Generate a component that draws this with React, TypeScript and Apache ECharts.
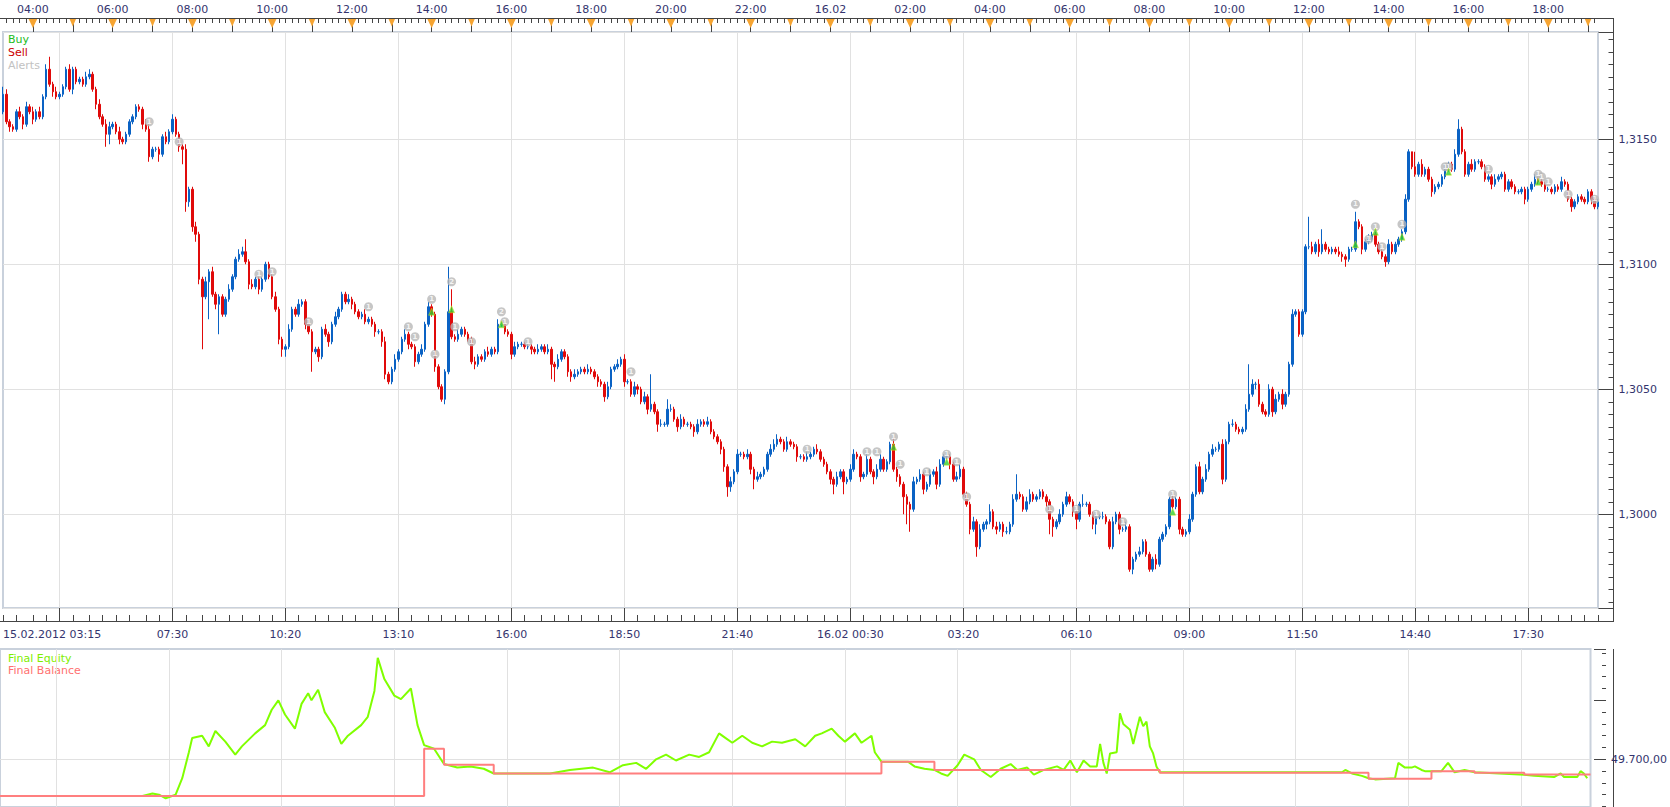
import React, { useEffect, useRef } from "react";
import * as echarts from "echarts";

// Prices are stored in pips above 1.3000 (price = 1.3 + pips / 10000)
const PIP_BASE = 1.3;
const FIRST_OPEN = 161;

const CLOSE = [
  168,157,155,154,161,159,156,163,161,158,161,159,167,178,172,169,167,168,171,178,
  170,178,173,174,172,175,176,170,164,159,156,152,155,156,153,150,149,152,157,159,
  163,162,156,154,143,146,146,144,151,149,153,158,152,147,146,125,130,115,112,94,
  87,93,97,88,84,87,80,86,90,95,102,104,105,101,92,91,94,90,94,100,
  95,87,82,70,66,67,74,82,80,84,85,76,73,65,66,63,74,72,69,76,
  79,82,88,85,86,84,81,79,80,77,78,76,73,73,69,56,53,58,62,65,
  70,72,68,67,61,64,66,76,83,80,59,51,46,57,81,71,70,72,74,72,
  70,61,60,63,62,65,64,66,65,76,76,73,72,64,67,68,68,67,67,66,
  65,66,67,65,66,60,59,62,65,63,57,55,56,57,58,57,58,57,55,53,
  52,47,51,58,59,60,62,53,53,48,51,50,45,47,42,44,41,36,36,36,
  42,42,38,35,38,36,36,35,33,36,37,36,37,33,31,29,26,19,11,13,
  17,24,24,23,24,18,14,15,16,18,24,26,28,30,29,26,29,28,27,23,
  23,22,23,24,26,25,22,20,17,14,12,15,17,13,14,18,24,23,15,16,
  22,17,15,18,22,18,21,28,18,15,12,7,4,2,13,14,16,10,12,16,
  17,12,20,23,23,20,14,15,18,8,4,-6,-3,-13,-6,-4,-3,1,-5,-6,
  -4,-7,-7,-4,6,8,7,2,5,8,6,7,9,7,5,-2,-5,-3,0,4,
  7,5,1,-2,4,4,4,0,-4,-1,-1,-1,-3,-13,-3,0,-6,-6,-5,-22,
  -18,-16,-15,-11,-16,-22,-18,-20,-10,-8,-5,6,3,6,-6,-8,-7,-2,8,19,
  9,14,18,24,26,26,28,14,29,36,36,34,33,34,42,48,52,52,44,41,
  40,50,41,46,48,44,48,60,80,81,72,81,107,107,105,108,105,108,106,105,
  106,105,104,103,102,106,106,117,115,106,109,110,112,108,105,103,101,108,105,108,
  110,113,126,145,139,136,140,136,138,134,129,131,132,135,138,140,138,144,154,145,
  136,140,138,141,141,139,134,135,132,134,135,136,130,133,131,129,129,130,126,130,
  132,134,133,132,130,130,129,131,130,133,132,126,123,125,127,126,125,129,126,123,
  125,
];

// upper wick (pips above the body) and lower wick (pips below the body)
const UP_WICK = [
  3,2,1,1,1,2,1,2,1,2,1,2,1,2,5,1,2,1,1,1,
  2,1,1,1,1,2,2,1,1,2,1,2,2,1,1,2,1,1,1,1,
  1,1,1,2,2,1,1,1,1,2,1,2,1,1,1,2,1,1,2,1,
  1,2,1,2,1,1,1,1,2,1,1,2,2,5,1,2,1,1,1,1,
  1,1,2,1,1,1,2,1,1,2,1,1,2,1,1,1,1,2,1,1,
  2,1,1,1,2,1,1,1,1,2,1,1,1,1,1,2,1,1,2,1,
  1,2,1,1,1,1,2,1,2,1,1,1,1,1,18,9,1,2,1,1,
  1,1,2,1,1,1,2,1,1,2,1,1,1,1,2,1,1,1,1,1,
  1,2,1,1,2,1,1,2,1,1,1,1,2,1,1,1,2,1,1,1,
  1,1,2,1,1,2,1,2,1,1,2,1,1,2,1,12,1,1,2,1,
  4,2,1,1,2,1,1,1,1,2,1,1,2,1,1,1,1,1,1,2,
  1,2,1,1,2,1,1,2,1,1,1,2,2,2,1,1,2,1,1,1,
  1,1,2,1,1,2,1,1,1,1,1,2,1,1,1,2,2,1,1,1,
  2,1,1,2,2,1,1,1,3,1,1,1,1,1,2,1,2,1,1,2,
  1,2,2,1,2,1,1,2,2,1,1,1,2,1,2,1,1,3,1,2,
  1,1,2,1,2,8,1,1,2,2,1,1,1,1,1,1,1,1,2,1,
  2,1,1,1,1,4,1,1,1,1,1,2,1,1,2,1,1,1,2,1,
  1,1,2,1,1,1,1,2,1,1,1,1,2,1,1,1,1,2,1,1,
  2,1,2,1,2,1,1,2,1,1,2,1,1,1,2,12,2,1,2,1,
  1,2,1,2,1,2,1,1,2,1,1,1,1,12,2,1,2,6,1,1,
  1,1,2,1,1,1,1,4,1,1,1,2,1,1,1,1,1,2,1,1,
  1,1,2,1,0,6,1,2,1,1,1,1,1,1,2,1,1,2,4,1,
  1,1,2,1,1,1,1,1,1,2,1,1,1,1,1,1,1,1,1,1,
  1,2,1,1,1,1,1,1,1,2,1,1,1,1,1,1,1,1,1,1,
  1,
];

const DN_WICK = [
  1,1,2,1,1,1,2,1,1,2,1,1,1,1,1,2,1,1,1,1,
  1,2,1,1,1,1,1,1,2,1,1,5,4,1,1,2,1,1,1,1,
  1,1,2,1,2,1,1,3,1,1,1,1,1,2,6,4,2,2,3,2,
  21,1,15,1,2,12,1,1,1,1,1,1,1,1,2,1,1,2,1,1,
  1,1,1,2,3,3,1,1,1,1,1,2,1,8,1,2,1,1,2,1,
  1,1,1,1,1,2,1,1,1,1,1,1,2,1,2,2,1,1,1,1,
  1,1,2,1,2,1,1,1,1,1,2,1,1,2,1,1,1,1,1,1,
  1,1,2,1,1,1,1,1,1,1,1,1,1,2,1,1,1,1,1,2,
  1,1,1,1,1,6,6,1,1,1,2,2,1,1,1,1,1,1,1,2,
  1,2,1,1,1,1,1,2,1,1,1,2,1,1,2,1,1,3,1,1,
  1,1,1,2,1,1,1,1,2,1,1,1,1,1,1,1,2,2,4,2,
  1,1,1,1,1,2,4,1,1,1,1,1,1,1,1,1,1,1,1,2,
  1,1,1,1,1,1,1,1,1,2,4,1,1,5,1,1,1,1,2,1,
  1,1,3,1,1,1,1,1,1,2,1,7,8,9,1,1,1,2,1,1,
  1,2,1,1,1,2,1,1,1,1,1,2,1,4,1,1,2,1,1,2,
  1,2,1,1,1,1,1,1,1,1,1,1,1,1,2,6,4,1,1,1,
  1,1,2,4,1,1,1,1,2,4,1,1,1,1,1,1,2,1,1,1,
  2,1,1,1,1,1,1,2,1,1,1,1,1,1,2,1,1,1,1,1,
  1,1,1,1,1,1,1,2,1,1,1,1,1,1,1,1,1,2,1,1,
  1,1,2,1,1,2,1,1,1,1,1,1,1,1,1,1,2,1,1,1,
  1,1,1,2,3,1,1,1,1,2,1,1,1,1,1,1,2,1,1,1,
  1,1,1,1,1,1,1,1,1,1,2,1,1,1,1,1,1,1,1,1,
  1,1,1,1,1,1,1,1,2,1,1,1,1,1,1,1,1,1,2,1,
  1,1,1,1,1,1,1,1,1,1,1,1,2,1,1,1,1,1,2,1,
  1,
];

// alerts: [bar index, pips, text]
const ALERTS: [number, number, string][] = [
  [44,157,"1"],[53,149,"1"],[77,96,"1"],[81,97,"1"],[92,77,"1"],[110,83,"1"],[122,75,"1"],
  [124,71,"1"],[129,86,"1"],[130,64,"1"],[135,93,"2"],[136,75,"1"],[141,69,"1"],[150,81,"2"],
  [151,77,"1"],[158,69,"1"],[189,57,"1"],[242,26,"1"],[260,25,"1"],[263,25,"1"],[268,31,"1"],
  [270,20,"1"],[278,17,"1"],[284,24,"1"],[287,21,"1"],[290,7,"1"],[315,2,"1"],[323,2,"1"],
  [329,0,"1"],[337,-3,"1"],[352,8,"1"],[407,124,"1"],[411,110,"1"],[413,115,"1"],[415,107,"1"],
  [421,116,"1"],[434,139,"1"],[435,139,"1"],[447,138,"1"],[462,136,"1"],[463,135,"1"],
  [465,133,"1"],[471,128,"1"],[479,126,"1"],
];
const BUYS: [number, number][] = [
  [129,81],[135,82],[150,76],[268,27],[284,21],[352,1],[407,108],[413,113],[421,111],[435,137],[462,133],
];

// equity / balance: [bar index, value]
const EQUITY: [number, number][] = [
  [0,49669],[43,49669],[46,49671],[48,49670],[50,49667],[53,49670],[55,49684],[57,49706],[58,49718],
  [61,49720],[63,49711],[65,49724],[68,49715],[71,49704],[73,49711],[77,49722],[80,49729],[82,49742],
  [84,49750],[86,49738],[89,49726],[91,49747],[93,49756],[94,49750],[96,49759],[98,49740],[101,49727],
  [103,49713],[105,49720],[109,49729],[111,49736],[113,49758],[114,49786],[116,49768],[119,49754],
  [121,49751],[124,49760],[126,49729],[128,49712],[131,49709],[134,49696],[138,49693],[142,49694],
  [146,49692],[149,49688],[166,49688],[172,49691],[179,49693],[184,49689],[188,49695],[192,49697],
  [195,49692],[198,49700],[201,49704],[204,49699],[208,49704],[211,49702],[214,49706],[217,49722],
  [219,49718],[221,49714],[224,49720],[227,49714],[230,49711],[233,49715],[236,49714],[240,49717],
  [243,49711],[246,49720],[248,49722],[251,49726],[253,49720],[255,49715],[258,49722],[260,49714],
  [263,49720],[264,49706],[266,49698],[274,49698],[276,49694],[279,49692],[282,49691],[284,49688],
  [286,49686],[289,49695],[291,49704],[294,49700],[296,49691],[299,49685],[302,49692],[305,49696],
  [307,49691],[310,49693],[312,49687],[315,49691],[319,49694],[321,49691],[323,49699],[325,49689],
  [327,49699],[329,49694],[331,49694],[332,49713],[333,49697],[334,49688],[335,49705],[337,49706],
  [338,49739],[339,49730],[341,49725],[342,49713],[344,49736],[345,49728],[346,49732],[347,49711],
  [348,49705],[349,49694],[350,49689],[405,49689],[406,49691],[408,49688],[411,49686],[413,49684],
  [415,49683],[421,49684],[422,49697],[424,49693],[426,49693],[427,49694],[429,49691],[430,49690],
  [435,49690],[437,49697],[439,49689],[442,49691],[445,49689],[460,49687],[463,49686],[469,49685],
  [471,49688],[472,49685],[476,49685],[477,49690],[478,49688],[479,49684],
];
const BALANCE: [number, number][] = [
  [0,49669],[128,49709],[134,49695.5],[149,49688],[266,49698],[282,49691],[350,49688.6],
  [413,49683.6],[432,49690],[445,49688.6],[460,49687.2],[480,49687.2],
];

// axis ticks and labels (bar indices)
const BOTTOM_LABEL_IDX = [0,51,85,119,153,187,221,255,289,323,357,391,425,459];
const BOTTOM_LABELS = ["15.02.2012 03:15","07:30","10:20","13:10","16:00","18:50","21:40","16.02 00:30","03:20","06:10","09:00","11:50","14:40","17:30"];
const TOP_LABEL_IDX = [9,33,57,81,105,129,153,177,201,225,249,273,297,321,345,369,393,417,441,465];
const TOP_LABELS = ["04:00","06:00","08:00","10:00","12:00","14:00","16:00","18:00","20:00","22:00","16.02","02:00","04:00","06:00","08:00","10:00","12:00","14:00","16:00","18:00"];
const HOUR_IDX = [9,21,33,45,57,69,81,93,105,117,129,141,153,165,177,189,201,213,225,237,249,261,273,285,297,309,321,333,345,357,369,381,393,405,417,429,441,453,465,477];
const MAJOR_IDX = [17,51,85,119,153,187,221,255,289,323,357,391,425,459];
const MINOR_OFFSETS = [4,9,13,17,21,26,30];
const EQUITY_GRID_VALUE = 49700;

const FONT = "DejaVu Sans";
const LABEL_COLOR = "#34346e";
const AXIS_COLOR = "#444444";
const GRID_LINE = "#e1e1e1";
const UP_COLOR = "#0a62c4";
const DOWN_COLOR = "#e00a0a";

export default function App() {
  const ref = useRef<HTMLDivElement>(null);

  useEffect(() => {
    document.body.style.margin = "0";
    if (!ref.current) return;
    const chart = echarts.init(ref.current, undefined, { renderer: "svg" });

    const categories = CLOSE.map((_, i) => String(i));
    const candles = CLOSE.map((c, i) => {
      const o = i === 0 ? FIRST_OPEN : CLOSE[i - 1];
      return [o, c, Math.min(o, c) - DN_WICK[i], Math.max(o, c) + UP_WICK[i]];
    });

    const majorSet = new Set(MAJOR_IDX);
    const minorSet = new Set(MINOR_OFFSETS);
    const isMinor = (i: number) => minorSet.has((((i - 17) % 34) + 34) % 34);
    const bottomMap = new Map(BOTTOM_LABEL_IDX.map((k, j) => [k, BOTTOM_LABELS[j]]));
    const topMap = new Map(TOP_LABEL_IDX.map((k, j) => [k, TOP_LABELS[j]]));
    const hourSet = new Set(HOUR_IDX);

    const labelStyle = { color: LABEL_COLOR, fontFamily: FONT, fontSize: 11 };
    const gridW = 1598;
    const noLine = { show: false, onZero: false };

    const option: any = {
      animation: false,
      textStyle: { fontFamily: FONT },
      grid: [
        { left: 0, top: 32, width: gridW, height: 576, show: true, borderColor: "#c9d1dc", borderWidth: 2, backgroundColor: "transparent" },
        { left: 0, top: 649, width: gridW, height: 158, show: true, borderColor: "#c9d1dc", borderWidth: 2, backgroundColor: "transparent" },
      ],
      xAxis: [
        {
          type: "category", gridIndex: 0, data: categories, boundaryGap: false, position: "bottom", offset: 13.5,
          axisLine: noLine,
          axisTick: { show: true, inside: true, length: 13.5, interval: (i: number) => majorSet.has(i), lineStyle: { color: AXIS_COLOR } },
          axisLabel: { show: true, ...labelStyle, margin: 7, interval: (i: number) => bottomMap.has(i), formatter: (_v: string, i: number) => bottomMap.get(i) || "", alignMinLabel: "left" },
          splitLine: { show: true, interval: (i: number) => majorSet.has(i), lineStyle: { color: GRID_LINE, width: 1 } },
        },
        {
          type: "category", gridIndex: 0, data: categories, boundaryGap: false, position: "bottom", offset: 13.5,
          axisLine: noLine,
          axisTick: { show: true, inside: true, length: 6.5, interval: (i: number) => isMinor(i), lineStyle: { color: AXIS_COLOR } },
          axisLabel: { show: false }, splitLine: { show: false },
        },
        {
          type: "category", gridIndex: 0, data: categories, boundaryGap: false, position: "top", offset: 13.5,
          axisLine: noLine,
          axisTick: { show: true, inside: true, length: 4.5, interval: (i: number) => i % 2 === 1, lineStyle: { color: AXIS_COLOR } },
          axisLabel: { show: false }, splitLine: { show: false },
        },
        {
          type: "category", gridIndex: 0, data: categories, boundaryGap: false, position: "top", offset: 13.5,
          axisLine: noLine,
          axisTick: { show: true, inside: true, length: 13.5, interval: (i: number) => hourSet.has(i), lineStyle: { color: AXIS_COLOR } },
          axisLabel: { show: true, ...labelStyle, margin: 4, interval: (i: number) => topMap.has(i), formatter: (_v: string, i: number) => topMap.get(i) || "" },
          splitLine: { show: false },
        },
        {
          type: "category", gridIndex: 1, data: categories, boundaryGap: false,
          axisLine: noLine, axisTick: { show: false }, axisLabel: { show: false },
          splitLine: { show: true, interval: (i: number) => majorSet.has(i), lineStyle: { color: GRID_LINE, width: 1 } },
        },
      ],
      yAxis: [
        {
          type: "value", gridIndex: 0, position: "right", offset: 15.5, min: -37.5, max: 192.9, splitNumber: 5,
          axisLine: noLine,
          axisTick: { show: true, inside: true, length: 15, lineStyle: { color: AXIS_COLOR } },
          minorTick: { show: true, splitNumber: 10, length: 5, lineStyle: { color: AXIS_COLOR } },
          axisLabel: {
            ...labelStyle, margin: 5, showMinLabel: false, showMaxLabel: false,
            formatter: (v: number) => (PIP_BASE + v / 10000).toFixed(4).replace(".", ","),
          },
          splitLine: { show: true, lineStyle: { color: GRID_LINE, width: 1 } },
        },
        {
          type: "value", gridIndex: 1, position: "right", offset: 15.5, min: 49659.6, max: 49793.5, splitNumber: 3,
          axisLine: noLine,
          axisTick: { show: true, inside: true, length: 12, lineStyle: { color: AXIS_COLOR } },
          minorTick: { show: true, splitNumber: 5, length: 4, lineStyle: { color: AXIS_COLOR } },
          axisLabel: {
            ...labelStyle, margin: 5, showMinLabel: false, showMaxLabel: false,
            formatter: (v: number) => (v === EQUITY_GRID_VALUE ? "49.700,00" : ""),
          },
          splitLine: { show: false },
        },
      ],
      series: [
        {
          type: "candlestick", xAxisIndex: 0, yAxisIndex: 0, data: candles, barWidth: 2,
          itemStyle: { color: UP_COLOR, color0: DOWN_COLOR, borderColor: UP_COLOR, borderColor0: DOWN_COLOR, borderWidth: 1 },
          silent: true,
        },
        {
          type: "scatter", xAxisIndex: 0, yAxisIndex: 0, data: ALERTS, symbol: "circle", symbolSize: 9, z: 4, silent: true,
          itemStyle: { color: "#b8b8b8" },
          label: { show: true, position: "inside", formatter: (p: any) => p.data[2], color: "#ffffff", fontSize: 7, fontWeight: "bold", fontFamily: FONT },
        },
        {
          type: "scatter", xAxisIndex: 0, yAxisIndex: 0, data: BUYS, symbol: "triangle", symbolSize: [6, 7], z: 5, silent: true,
          itemStyle: { color: "#2fcf2f", borderColor: "#e0e020", borderWidth: 0.6 },
        },
        {
          type: "custom", xAxisIndex: 0, yAxisIndex: 0, clip: false, silent: true, z: 6,
          data: HOUR_IDX.map((i) => [i, topMap.has(i) ? 1 : 0]),
          encode: { x: 0, y: 1 },
          renderItem: (_params: any, api: any) => {
            const x = api.coord([api.value(0), 0])[0];
            const big = api.value(1) === 1;
            const w = big ? 4.3 : 3.2;
            const h = big ? 9 : 7.5;
            const top = 19;
            return {
              type: "polygon",
              shape: { points: [[x - w, top], [x + w, top], [x, top + h]] },
              style: { fill: "#f6a431" },
            };
          },
        },
        {
          type: "line", xAxisIndex: 4, yAxisIndex: 1, data: EQUITY, showSymbol: false, symbol: "none", silent: true,
          lineStyle: { color: "#80ff00", width: 2 }, z: 3,
        },
        {
          type: "line", xAxisIndex: 4, yAxisIndex: 1, data: BALANCE, step: "end", showSymbol: false, symbol: "none", silent: true,
          lineStyle: { color: "#ff7f7f", width: 2 }, z: 4,
          markLine: {
            silent: true, symbol: "none", label: { show: false }, z: 1,
            lineStyle: { color: GRID_LINE, type: "solid", width: 1 },
            data: [{ yAxis: EQUITY_GRID_VALUE }],
          },
        },
      ],
      graphic: [
        { type: "line", shape: { x1: 0, y1: 18.5, x2: 1614, y2: 18.5 }, style: { stroke: AXIS_COLOR, lineWidth: 1 }, silent: true },
        { type: "line", shape: { x1: 0, y1: 621.5, x2: 1614, y2: 621.5 }, style: { stroke: AXIS_COLOR, lineWidth: 1 }, silent: true },
        { type: "line", shape: { x1: 1613.5, y1: 18, x2: 1613.5, y2: 622 }, style: { stroke: AXIS_COLOR, lineWidth: 1 }, silent: true },
        { type: "line", shape: { x1: 1613.5, y1: 649, x2: 1613.5, y2: 807 }, style: { stroke: AXIS_COLOR, lineWidth: 1 }, silent: true },
        { type: "text", x: 8, y: 39.5, style: { text: "Buy", fill: "#22bb22", font: `11px "${FONT}"`, verticalAlign: "middle" }, silent: true },
        { type: "text", x: 8, y: 52, style: { text: "Sell", fill: "#cc0000", font: `11px "${FONT}"`, verticalAlign: "middle" }, silent: true },
        { type: "text", x: 8, y: 65, style: { text: "Alerts", fill: "#c2c2c2", font: `11px "${FONT}"`, verticalAlign: "middle" }, silent: true },
        { type: "text", x: 8, y: 658, style: { text: "Final Equity", fill: "#80ee00", font: `11px "${FONT}"`, verticalAlign: "middle" }, silent: true },
        { type: "text", x: 8, y: 670.5, style: { text: "Final Balance", fill: "#ff7070", font: `11px "${FONT}"`, verticalAlign: "middle" }, silent: true },
      ],
    };

    chart.setOption(option);
    return () => chart.dispose();
  }, []);

  return <div ref={ref} style={{ width: 1670, height: 807 }} />;
}
